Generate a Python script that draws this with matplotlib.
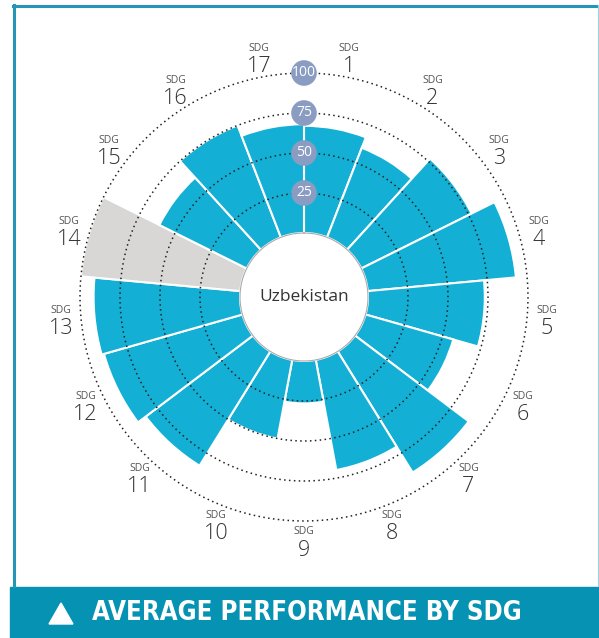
import numpy as np
import matplotlib.pyplot as plt
from matplotlib.patches import Rectangle, Polygon
from matplotlib.lines import Line2D

# ---- data ----
sdg_numbers = [str(i) for i in range(1, 18)]
scores = [67, 60, 77, 93, 73, 57, 89, 70, 26.5, 50, 84, 90, 91.5, 100, 61, 75, 68]
missing = [False] * 13 + [True] + [False] * 3
ring_values = [25, 50, 75, 100]
country = "Uzbekistan"
title = "AVERAGE PERFORMANCE BY SDG"

W, H = 599, 638
fig = plt.figure(figsize=(W / 100, H / 100), dpi=100)
fig.patch.set_facecolor('white')

cx, cy = 304, 297          # centre in pixels (from top)
offset = 40                # inner hole in value units
rmax = 140
R = 224                    # px radius for rmax
ax = fig.add_axes([(cx - R) / W, (H - cy - R) / H, 2 * R / W, 2 * R / H],
                  projection='polar')
ax.set_ylim(0, rmax)
ax.set_theta_zero_location('N')
ax.set_theta_direction(-1)
ax.axis('off')

n = len(scores)
width = 2 * np.pi / n
theta = np.arange(n) * width + width / 2
colors = ['#d9d7d5' if m else '#13afd5' for m in missing]
ax.bar(theta, scores, width=width, bottom=offset, color=colors,
       edgecolor='white', linewidth=1.5, zorder=2)

t = np.linspace(0, 2 * np.pi, 721)
for v in ring_values:
    ax.plot(t, np.full_like(t, offset + v), linestyle=(0, (1, 2.2)),
            color='#222222', lw=1.1, zorder=3, clip_on=False)
ax.plot(t, np.full_like(t, offset), color='#aaaaaa', lw=0.8, zorder=3)

ax.scatter([0] * len(ring_values), [offset + v for v in ring_values], s=340,
           color='#8a9cc2', edgecolor='none', zorder=5, clip_on=False)
for v in ring_values:
    ax.text(0, offset + v, str(v), ha='center', va='center', color='white',
            fontsize=10, family='Open Sans', zorder=6, clip_on=False)

ax.text(0, 0, country, ha='center', va='center', fontsize=12.5,
        color='#333333', family='Open Sans', zorder=6)

rl = 244 / 1.6
for i, num in enumerate(sdg_numbers):
    ax.annotate('SDG', xy=(theta[i], rl), xytext=(0, 6.5), textcoords='offset points',
                ha='center', va='center', fontsize=7.5, color='#555555',
                family='Open Sans', annotation_clip=False)
    ax.annotate(num, xy=(theta[i], rl), xytext=(0, -6.5), textcoords='offset points',
                ha='center', va='center', fontsize=15.5, color='#333333',
                family='Open Sans', fontweight='light', annotation_clip=False)

# frame
fig.add_artist(Line2D([13.5 / W, 13.5 / W], [(H - 586) / H, (H - 5) / H],
                      transform=fig.transFigure, color='#2596b5', lw=2.2))
fig.add_artist(Line2D([12.5 / W, 597.5 / W], [(H - 5.5) / H, (H - 5.5) / H],
                      transform=fig.transFigure, color='#2596b5', lw=2.2))
fig.add_artist(Line2D([597.5 / W, 597.5 / W], [(H - 586) / H, (H - 5) / H],
                      transform=fig.transFigure, color='#9fd3e3', lw=0.8))

# banner
fig.add_artist(Rectangle((10 / W, 0), (W - 10) / W, 51 / H,
                         transform=fig.transFigure, color='#0592b3', zorder=1))
tri = [(49 / W, (H - 624) / H), (73 / W, (H - 624) / H), (61 / W, (H - 603) / H)]
fig.add_artist(Polygon(tri, closed=True, transform=fig.transFigure,
                       color='white', zorder=2))
fig.text(92 / W, (H - 613) / H, title, ha='left', va='center', color='white',
         fontsize=18.5, fontweight='bold', family='DejaVu Sans',
         fontstretch='condensed', zorder=3)

fig.savefig('out.png', dpi=100)
